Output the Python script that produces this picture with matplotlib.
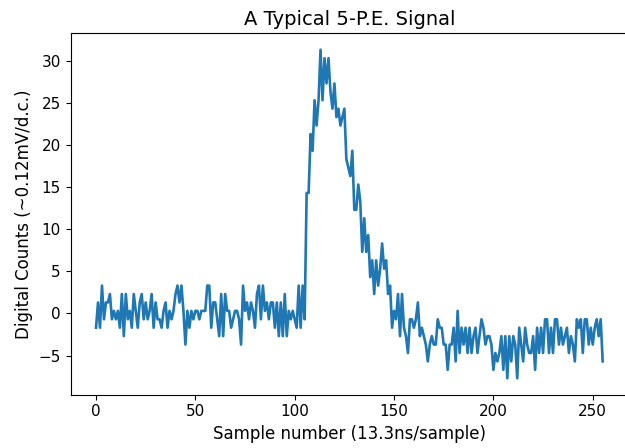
import numpy as np
import matplotlib
matplotlib.use("Agg")
import matplotlib.pyplot as plt

# baseline-subtracted digitizer counts, one value per sample
counts = [
    -1.7, 1.3, -1.7, 3.3, -0.7, 1.3, 1.3, 2.3, -0.7, 0.3,
    -0.7, 0.3, -1.7, 2.3, -2.7, 2.3, -0.7, 0.3, -1.7, 2.3,
    0.3, -1.7, 1.3, 2.3, -0.7, 1.3, -0.7, 0.3, 2.3, -1.7,
    1.3, -0.7, -0.7, -1.7, 0.3, 1.3, -1.7, 0.3, -0.7, 0.3,
    2.3, 3.3, 1.3, 3.3, 0.3, -3.7, 0.3, -1.7, 0.3, -0.7,
    0.3, 0.3, -0.7, 0.3, 0.3, 0.3, 3.3, 3.3, -1.7, 1.3,
    1.3, -0.7, -2.7, 2.3, -2.7, 2.3, 0.3, 0.3, -1.7, -0.7,
    0.3, 0.3, -0.7, -3.7, 3.3, 0.3, 1.3, -0.7, 1.3, 0.3,
    -1.7, 2.3, 3.3, -0.7, 3.3, 0.3, 1.3, -0.7, 1.3, 1.3,
    -1.7, 1.3, -2.7, 1.3, -2.7, 2.3, -2.7, 0.3, -0.7, 0.3,
    -0.7, -1.7, 3.3, -1.7, 3.3, -0.7, 14.3, 14.3, 21.3, 19.3,
    25.3, 22.3, 25.3, 31.3, 25.3, 30.3, 27.3, 30.3, 26.3, 24.3,
    27.3, 23.3, 24.3, 22.3, 23.3, 24.3, 18.3, 17.3, 16.3, 19.3,
    12.3, 12.3, 15.3, 13.3, 7.3, 11.3, 7.3, 9.3, 4.3, 6.3,
    2.3, 6.3, 3.3, 5.3, 8.3, 5.3, 6.3, 2.3, 3.3, -1.7,
    0.3, -0.7, 2.3, -2.7, 2.3, -1.7, -2.7, -4.7, -0.7, -0.7,
    -1.7, -0.7, 1.3, -2.7, -1.7, -2.7, -3.7, -5.7, -3.7, -2.7,
    -3.7, -3.7, -0.7, -1.7, -1.7, -3.7, -3.7, -6.7, -3.7, -3.7,
    -1.7, -5.7, 0.3, -4.7, -1.7, -3.7, -1.7, -4.7, -1.7, -4.7,
    -2.7, -1.7, -4.7, -2.7, -0.7, -1.7, -3.7, -2.7, -2.7, -3.7,
    -6.7, -4.7, -5.7, -4.7, -2.7, -6.7, -2.7, -7.7, -2.7, -5.7,
    -2.7, -3.7, -7.7, -1.7, -3.7, -5.7, -1.7, -3.7, -4.7, -4.7,
    -2.7, -6.7, -1.7, -4.7, -1.7, -4.7, -0.7, -0.7, -4.7, -1.7,
    -4.7, -0.7, -0.7, -3.7, -1.7, -3.7, -2.7, -1.7, -4.7, -2.7,
    -3.7, -5.7, -0.7, -1.7, -0.7, -4.7, -0.7, -0.7, -3.7, -1.7,
    -3.7, -1.7, -0.7, -2.7, -0.7, -5.7,
]
samples = np.arange(len(counts))


def main():
    fig = plt.figure(figsize=(6.25, 4.48), dpi=100)
    ax = fig.add_axes([0.1131, 0.119, 0.8917, 0.8067])

    ax.plot(samples, counts, linewidth=1.9)
    ax.set_xlabel('Sample number (13.3ns/sample)', fontsize=12)
    ax.set_ylabel('Digital Counts (~0.12mV/d.c.)', fontsize=12)
    ax.set_title('A Typical 5-P.E. Signal', fontsize=14)
    ax.tick_params(labelsize=11)

    fig.savefig("out.png", dpi=100)


if __name__ == "__main__":
    main()
